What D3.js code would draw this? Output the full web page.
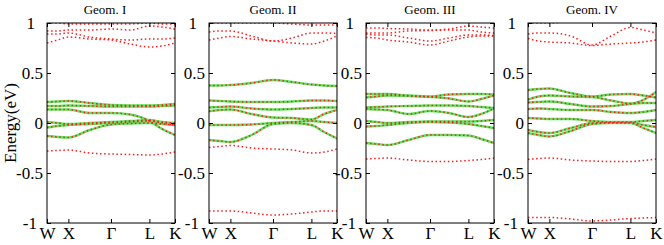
<!DOCTYPE html>
<html>
<head>
<meta charset="utf-8">
<script src="https://cdn.jsdelivr.net/npm/d3@7"></script>
<style>
  body { margin: 0; background: #fff; }
  svg { display: block; font-family: "Liberation Serif", "Times New Roman", serif; }
</style>
</head>
<body>
<svg id="chart" width="664" height="245"></svg>
<script>
// k-path positions where the band energies were read
const KNOTS = [0, 0.083, 0.167, 0.333, 0.5, 0.65, 0.8, 0.9, 1];
const KLABELS = ["W", "X", "Γ", "L", "K"];
const KPOS = [0, 0.167, 0.5, 0.8, 1];
const Y_TICKS = [-1, -0.5, 0, 0.5, 1];
const TITLES = ["Geom. I", "Geom. II", "Geom. III", "Geom. IV"];

// Geom. I
const geom1Red = [
  [1.00, 1.00, 0.99, 0.99, 0.99, 0.99, 1.00, 0.99, 0.99],
  [0.92, 0.92, 0.93, 0.93, 0.94, 0.93, 0.97, 0.96, 0.94],
  [0.89, 0.89, 0.90, 0.86, 0.84, 0.83, 0.84, 0.84, 0.85],
  [0.80, 0.83, 0.86, 0.84, 0.83, 0.79, 0.76, 0.77, 0.80],
  [-0.28, -0.275, -0.27, -0.30, -0.31, -0.315, -0.32, -0.31, -0.29]
];
const geom1Green = [
  [0.21, 0.215, 0.22, 0.20, 0.18, 0.175, 0.175, 0.18, 0.19],
  [0.17, 0.17, 0.175, 0.17, 0.165, 0.165, 0.165, 0.17, 0.175],
  [0.135, 0.135, 0.135, 0.10, 0.10, 0.085, 0.02, -0.06, -0.12],
  [0.01, 0.0, -0.01, 0.0, 0.01, 0.02, 0.03, 0.01, 0.0],
  [-0.045, -0.03, -0.02, -0.01, 0.0, 0.01, 0.02, 0.0, -0.02],
  [-0.13, -0.14, -0.145, -0.07, -0.015, -0.005, 0.0, -0.01, -0.02]
];

// Geom. II
const geom2Red = [
  [1.00, 1.00, 1.00, 1.00, 1.00, 0.99, 0.98, 0.98, 0.98],
  [0.91, 0.92, 0.92, 0.87, 0.82, 0.85, 0.90, 0.90, 0.895],
  [0.83, 0.85, 0.865, 0.84, 0.82, 0.80, 0.79, 0.82, 0.87],
  [-0.245, -0.235, -0.225, -0.25, -0.26, -0.27, -0.30, -0.29, -0.26],
  [-0.88, -0.88, -0.88, -0.90, -0.92, -0.91, -0.89, -0.88, -0.88]
];
const geom2Green = [
  [0.375, 0.375, 0.38, 0.40, 0.43, 0.41, 0.385, 0.375, 0.37],
  [0.225, 0.22, 0.215, 0.21, 0.21, 0.215, 0.225, 0.225, 0.22],
  [0.155, 0.16, 0.165, 0.145, 0.135, 0.14, 0.15, 0.155, 0.155],
  [0.117, 0.13, 0.135, 0.09, 0.055, 0.05, 0.035, 0.09, 0.13],
  [-0.02, -0.02, -0.02, -0.015, 0.0, 0.01, 0.02, 0.01, 0.0],
  [-0.17, -0.18, -0.19, -0.12, -0.01, 0.0, -0.02, -0.09, -0.155]
];

// Geom. III
const geom3Red = [
  [0.95, 0.95, 0.945, 0.94, 0.93, 0.94, 0.97, 0.96, 0.95],
  [0.90, 0.90, 0.90, 0.92, 0.925, 0.93, 0.93, 0.91, 0.90],
  [0.89, 0.88, 0.88, 0.85, 0.82, 0.85, 0.88, 0.88, 0.875],
  [0.855, 0.85, 0.83, 0.81, 0.78, 0.82, 0.86, 0.87, 0.87],
  [-0.36, -0.355, -0.35, -0.37, -0.385, -0.385, -0.375, -0.365, -0.35]
];
const geom3Green = [
  [0.29, 0.29, 0.29, 0.275, 0.265, 0.285, 0.29, 0.29, 0.285],
  [0.255, 0.265, 0.275, 0.27, 0.26, 0.245, 0.215, 0.24, 0.275],
  [0.155, 0.16, 0.165, 0.17, 0.175, 0.175, 0.17, 0.16, 0.15],
  [0.14, 0.135, 0.13, 0.09, 0.12, 0.10, 0.06, 0.09, 0.145],
  [0.02, 0.01, 0.0, 0.01, 0.015, 0.015, 0.015, 0.02, 0.03],
  [-0.035, -0.03, -0.02, 0.0, 0.01, 0.005, -0.01, -0.03, -0.05],
  [-0.20, -0.21, -0.22, -0.17, -0.12, -0.12, -0.125, -0.16, -0.20]
];

// Geom. IV
const geom4Red = [
  [1.00, 1.00, 1.00, 1.02, 1.05, 1.06, 1.06, 1.06, 1.06],
  [0.89, 0.90, 0.90, 0.87, 0.78, 0.87, 0.955, 0.93, 0.90],
  [0.845, 0.82, 0.81, 0.80, 0.775, 0.79, 0.80, 0.81, 0.83],
  [-0.365, -0.355, -0.35, -0.37, -0.38, -0.385, -0.385, -0.375, -0.36],
  [-0.945, -0.945, -0.945, -0.96, -0.98, -0.97, -0.955, -0.95, -0.945]
];
const geom4Green = [
  [0.33, 0.34, 0.345, 0.30, 0.265, 0.285, 0.29, 0.275, 0.255],
  [0.235, 0.265, 0.275, 0.265, 0.26, 0.225, 0.195, 0.23, 0.31],
  [0.205, 0.21, 0.215, 0.19, 0.165, 0.17, 0.19, 0.20, 0.20],
  [0.14, 0.145, 0.14, 0.13, 0.13, 0.11, 0.10, 0.11, 0.13],
  [0.05, 0.045, 0.04, 0.04, 0.02, 0.01, 0.01, 0.02, 0.03],
  [-0.07, -0.09, -0.10, -0.05, 0.0, 0.005, 0.005, -0.02, -0.04],
  [-0.10, -0.12, -0.135, -0.08, -0.01, 0.0, 0.0, -0.05, -0.10]
];

const panels = [
  { red: geom1Red, green: geom1Green },
  { red: geom2Red, green: geom2Green },
  { red: geom3Red, green: geom3Green },
  { red: geom4Red, green: geom4Green }
];

const FONT = "Liberation Serif, Times New Roman, serif";
const LEFTS = [47, 209, 366, 528];
const PW = 128;
const TOP = 23, BOTTOM = 223;

const svg = d3.select("#chart");

const y = d3.scaleLinear().domain([-1, 1]).range([BOTTOM, TOP]);

panels.forEach((p, i) => {
  const left = LEFTS[i];
  const x = d3.scaleLinear().domain([0, 1]).range([left, left + PW]);
  const g = svg.append("g");

  g.append("clipPath").attr("id", "clip" + i)
    .append("rect")
    .attr("x", left).attr("y", TOP).attr("width", PW).attr("height", BOTTOM - TOP);

  const line = d3.line()
    .x((d, j) => x(KNOTS[j]))
    .y(d => y(d))
    .curve(d3.curveMonotoneX);

  const bands = g.append("g").attr("clip-path", `url(#clip${i})`);

  // green (one spin) solid
  bands.selectAll(".green")
    .data(p.green)
    .join("path")
    .attr("class", "green")
    .attr("d", line)
    .attr("fill", "none")
    .attr("stroke", "#5ee35e")
    .attr("stroke-width", 2.4);

  // red dotted (other spin) on top of green and alone
  bands.selectAll(".red")
    .data(p.green.concat(p.red))
    .join("path")
    .attr("class", "red")
    .attr("d", line)
    .attr("fill", "none")
    .attr("stroke", "#ff1a1a")
    .attr("stroke-width", 1.5)
    .attr("stroke-dasharray", "1.5,2.6");

  // frame
  g.append("rect")
    .attr("x", left).attr("y", TOP)
    .attr("width", PW).attr("height", BOTTOM - TOP)
    .attr("fill", "none").attr("stroke", "#000").attr("stroke-width", 1);

  // axes with inward ticks
  const yl = g.append("g")
    .attr("transform", `translate(${left},0)`)
    .call(d3.axisLeft(y).tickValues(Y_TICKS).tickSizeInner(-4).tickSizeOuter(0).tickPadding(4)
      .tickFormat(d => d === 0 ? "0" : String(d)));
  yl.select(".domain").remove();
  yl.selectAll("text")
    .attr("font-size", 17).attr("font-family", FONT).attr("fill", "#000")
    .attr("dx", d => d === 1 ? -8 : d === -1 ? -6 : 0);
  yl.selectAll("line").attr("stroke", "#000");

  const yr = g.append("g")
    .attr("transform", `translate(${left + PW},0)`)
    .call(d3.axisRight(y).tickValues(Y_TICKS).tickSizeInner(-4).tickSizeOuter(0).tickFormat(""));
  yr.select(".domain").remove();

  const xb = g.append("g")
    .attr("transform", `translate(0,${BOTTOM})`)
    .call(d3.axisBottom(x).tickValues(KPOS).tickSizeInner(-4).tickSizeOuter(0).tickPadding(4)
      .tickFormat((d, j) => KLABELS[j]));
  xb.select(".domain").remove();
  xb.selectAll("text")
    .attr("font-size", 17).attr("font-family", FONT).attr("fill", "#000");

  const xt = g.append("g")
    .attr("transform", `translate(0,${TOP})`)
    .call(d3.axisTop(x).tickValues(KPOS).tickSizeInner(-4).tickSizeOuter(0).tickFormat(""));
  xt.select(".domain").remove();

  g.append("text")
    .attr("x", left + PW / 2 + (i === 0 ? -6 : 0))
    .attr("y", 14)
    .attr("text-anchor", "middle")
    .attr("font-family", FONT)
    .attr("font-size", 13)
    .text(TITLES[i]);
});

svg.append("text")
  .attr("transform", `translate(16,${(TOP + BOTTOM) / 2}) rotate(-90)`)
  .attr("text-anchor", "middle")
  .attr("font-family", FONT)
  .attr("font-size", 17)
  .text("Energy(eV)");
</script>
</body>
</html>
